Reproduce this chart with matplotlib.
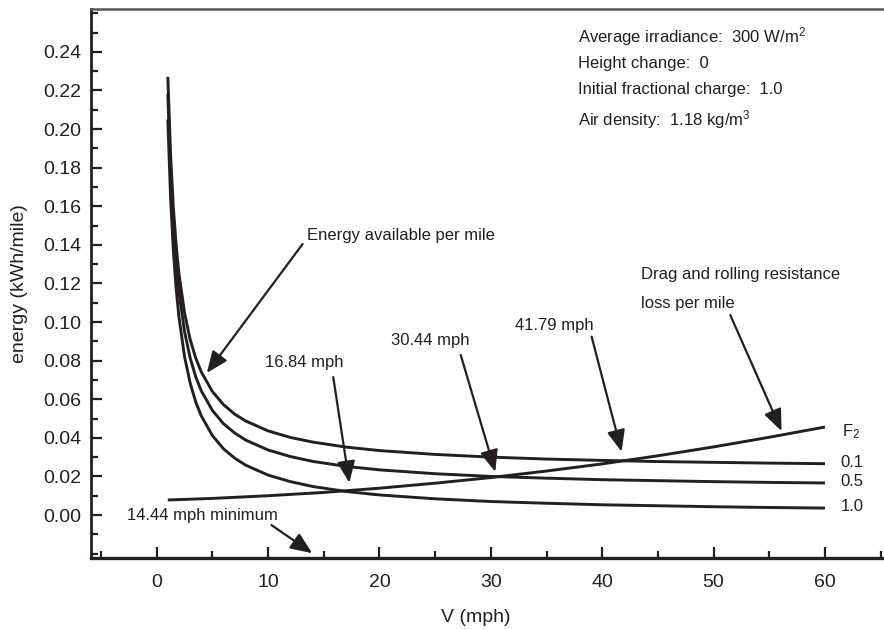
import matplotlib
matplotlib.use("Agg")
import matplotlib.pyplot as plt
from matplotlib.ticker import MultipleLocator

plt.rcParams["font.family"] = ["Liberation Sans", "DejaVu Sans"]
plt.rcParams["mathtext.fontset"] = "custom"
plt.rcParams["mathtext.rm"] = "Liberation Sans"
plt.rcParams["mathtext.it"] = "Liberation Sans"

INK = "#231f20"

# speed samples for the energy-available curves (mph)
v_avail = [1, 1.25, 1.5, 1.75, 2, 2.5, 3, 3.5, 4, 5, 6, 7, 8, 10, 12, 14,
           17, 20, 25, 30, 35, 40, 45, 50, 55, 60]
# energy available per mile (kWh/mile), one list per F2 value
avail_f01 = [0.227, 0.1862, 0.1591, 0.1397, 0.1251, 0.1047, 0.0911, 0.0814,
             0.0742, 0.0640, 0.0572, 0.0523, 0.0487, 0.0436, 0.0402, 0.0378,
             0.0352, 0.0334, 0.0314, 0.0300, 0.0290, 0.0283, 0.0277, 0.0273,
             0.0269, 0.0266]
avail_f05 = [0.218, 0.1770, 0.1497, 0.1302, 0.1156, 0.0951, 0.0815, 0.0717,
             0.0644, 0.0542, 0.0473, 0.0425, 0.0388, 0.0337, 0.0303, 0.0278,
             0.0252, 0.0234, 0.0214, 0.0200, 0.0191, 0.0183, 0.0178, 0.0173,
             0.0169, 0.0166]
avail_f10 = [0.205, 0.1640, 0.1367, 0.1172, 0.1026, 0.0821, 0.0685, 0.0587,
             0.0514, 0.0412, 0.0343, 0.0295, 0.0258, 0.0207, 0.0173, 0.0148,
             0.0122, 0.0104, 0.0084, 0.0070, 0.0061, 0.0053, 0.0048, 0.0043,
             0.0039, 0.0036]
f2_labels = ["0.1", "0.5", "1.0"]

# drag and rolling resistance loss per mile
v_drag = [1, 5, 10, 15, 20, 25, 30, 35, 40, 45, 50, 55, 60]
drag_loss = [0.0078, 0.0086, 0.0100, 0.0117, 0.0139, 0.0165, 0.0194, 0.0228,
             0.0265, 0.0307, 0.0353, 0.0403, 0.0456]

info_lines = ["Average irradiance:  300 W/m$^2$", "Height change:  0",
              "Initial fractional charge:  1.0", "Air density:  1.18 kg/m$^3$"]

fig = plt.figure(figsize=(8.84, 6.29), dpi=100)
ax = fig.add_axes([0.1029, 0.1134, 0.8971, 0.8723])

for ys in (avail_f01, avail_f05, avail_f10):
    ax.plot(v_avail, ys, color=INK, lw=2.1, solid_capstyle="butt")
ax.plot(v_drag, drag_loss, color=INK, lw=2.1, solid_capstyle="butt")

ax.set_xlim(-5.9, 65.3)
ax.set_ylim(-0.0221, 0.2622)
ax.xaxis.set_major_locator(MultipleLocator(10))
ax.xaxis.set_minor_locator(MultipleLocator(5))
ax.yaxis.set_major_locator(MultipleLocator(0.02))
ax.yaxis.set_minor_locator(MultipleLocator(0.01))
ax.set_yticks([i * 0.02 for i in range(13)])
ax.set_yticklabels([f"{i * 0.02:.2f}" for i in range(13)])

ax.tick_params(which="both", direction="in", color=INK, labelcolor=INK,
               labelsize=14, width=1.6)
ax.tick_params(which="major", length=8)
ax.tick_params(which="minor", length=5)
ax.tick_params(axis="y", pad=7)
ax.tick_params(axis="x", pad=12)

ax.spines["right"].set_visible(False)
ax.spines["left"].set_linewidth(2)
ax.spines["left"].set_color(INK)
ax.spines["bottom"].set_linewidth(2.4)
ax.spines["bottom"].set_color(INK)
ax.spines["top"].set_linewidth(1.8)
ax.spines["top"].set_color("#555555")

ax.set_xlabel("V (mph)", fontsize=14, color=INK)
ax.set_ylabel("energy (kWh/mile)", fontsize=14, color=INK)
ax.xaxis.set_label_coords(0.485, -0.093)
ax.yaxis.set_label_coords(-0.08, 0.5)

arrow = dict(arrowstyle="-|>,head_length=0.6,head_width=0.25", color=INK,
             lw=1.6, mutation_scale=22, shrinkA=0, shrinkB=0)

def pointer(tip, start):
    ax.annotate("", xy=tip, xytext=start, arrowprops=arrow)

ax.text(13.5, 0.1446, "Energy available per mile", fontsize=12, color=INK,
        ha="left", va="center")
pointer((4.5, 0.0736), (13.1, 0.1404))

ax.text(13.27, 0.0789, "16.84 mph", fontsize=12, color=INK, ha="center", va="center")
pointer((17.3, 0.0167), (15.85, 0.0715))

ax.text(24.6, 0.0903, "30.44 mph", fontsize=12, color=INK, ha="center", va="center")
pointer((30.4, 0.0224), (27.3, 0.0829))

ax.text(35.7, 0.0984, "41.79 mph", fontsize=12, color=INK, ha="center", va="center")
pointer((41.74, 0.0328), (39.05, 0.0924))

ax.text(43.5, 0.1244, "Drag and rolling resistance", fontsize=12, color=INK,
        ha="left", va="center")
ax.text(43.5, 0.1097, "loss per mile", fontsize=12, color=INK, ha="left", va="center")
pointer((56.1, 0.0435), (51.5, 0.1036))

ax.text(-2.67, -0.0005, "14.44 mph minimum", fontsize=12, color=INK,
        ha="left", va="center")
pointer((13.97, -0.0198), (10.3, -0.0052))

for txt, y in zip(info_lines, [0.2477, 0.234, 0.2206, 0.2047]):
    ax.text(37.85, y, txt, fontsize=12, color=INK, ha="left", va="center")

ax.text(61.5, 0.0432, "F$_2$", fontsize=12, color=INK, ha="left", va="center")
for lab, ys in zip(f2_labels, (avail_f01, avail_f05, avail_f10)):
    ax.text(61.4, ys[-1] + 0.0008, lab, fontsize=12, color=INK, ha="left", va="center")

fig.savefig("out.png", dpi=100)
